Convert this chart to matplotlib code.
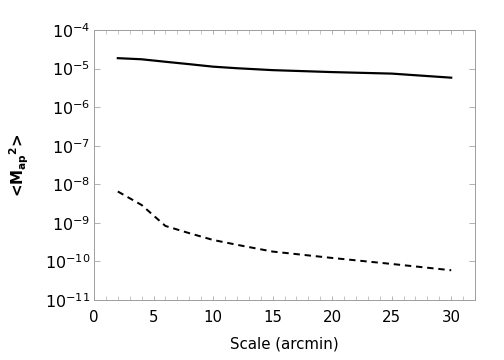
import numpy as np
import matplotlib
matplotlib.use("Agg")
import matplotlib.pyplot as plt
from matplotlib.ticker import MultipleLocator, FixedLocator, NullLocator

# scale in arcmin
scale = [2, 4, 6, 8, 10, 12, 15, 20, 25, 30]
# <Map^2>, solid curve
map2_solid = [1.86e-5, 1.74e-5, 1.5e-5, 1.3e-5, 1.12e-5, 1.02e-5, 9.1e-6, 8.1e-6, 7.4e-6, 5.8e-6]
# <Map^2>, dashed curve
map2_dashed = [6.5e-9, 2.9e-9, 8.3e-10, 5.4e-10, 3.6e-10, 2.7e-10, 1.8e-10, 1.23e-10, 8.6e-11, 5.9e-11]

plt.rcParams['font.family'] = ['DejaVu Sans']

fig = plt.figure(figsize=(7, 5), dpi=72)
ax = fig.add_axes([0.1865, 0.1667, 0.756, 0.75])

ax.plot(scale, map2_solid, color='black', lw=2.2, solid_joinstyle='round')
ax.plot(scale, map2_dashed, color='black', lw=2.0, ls=(0, (3.2, 2.4)))

ax.set_yscale('log')
ax.set_xlim(0, 32)
ax.set_ylim(1e-11, 1e-4)

ax.xaxis.set_major_locator(MultipleLocator(5))
ax.xaxis.set_minor_locator(MultipleLocator(1))
ax.yaxis.set_major_locator(FixedLocator([10.0**e for e in range(-11, -3)]))
ax.yaxis.set_minor_locator(NullLocator())
ax.yaxis.set_major_formatter(matplotlib.ticker.FuncFormatter(
    lambda v, p: r'$\mathregular{10^{%d}}$' % int(round(np.log10(v)))))

for s in ax.spines.values():
    s.set_color('#a0a0a0')
    s.set_linewidth(1.0)
ax.tick_params(which='both', direction='in', top=True, right=True,
               color='#a0a0a0', labelsize=15)
ax.tick_params(axis='y', which='major', length=6, pad=4, labelsize=16)
ax.tick_params(axis='x', which='both', length=4, pad=10)

ax.set_xlabel('Scale (arcmin)', fontsize=15)
ax.xaxis.set_label_coords(0.5, -0.135)
ax.set_ylabel(r'<$\mathregular{M_{ap}{}^2}$>', fontsize=15, fontweight='bold')
ax.yaxis.set_label_coords(-0.165, 0.5)

fig.savefig('out.png', dpi=72)
